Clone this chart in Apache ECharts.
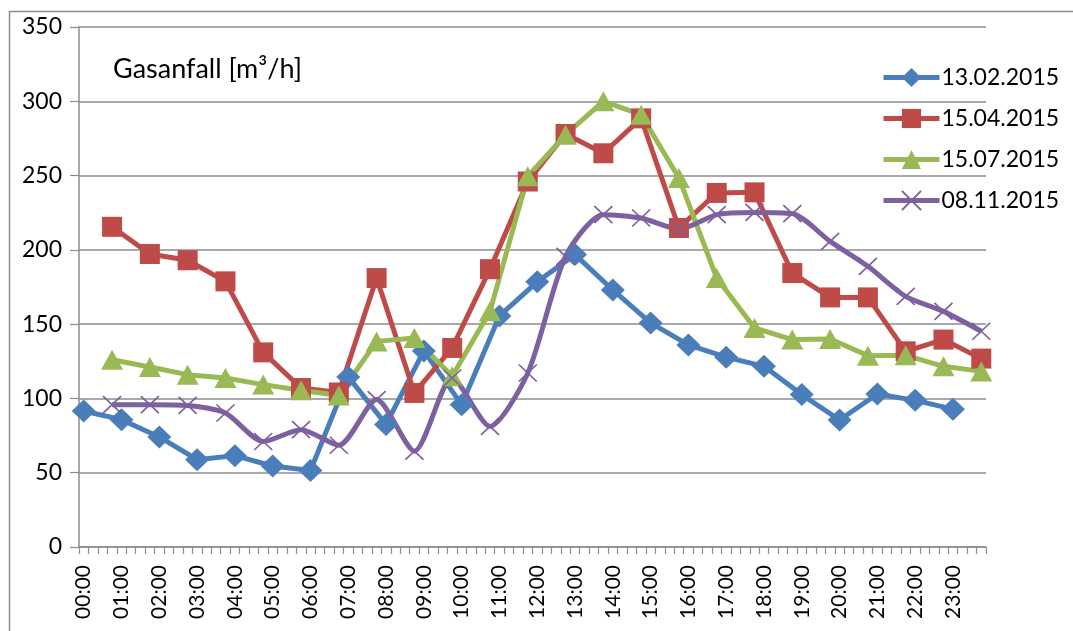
<!DOCTYPE html>
<html>
<head>
<meta charset="utf-8">
<script src="https://cdn.jsdelivr.net/npm/echarts@6/dist/echarts.min.js"></script>
<style>
html,body{margin:0;padding:0;background:#fff;}
#chart{width:1073px;height:631px;}
</style>
</head>
<body>
<div id="chart"></div>
<script>
// Hour tick labels (shown on axis)
const hourLabels = ['00','01','02','03','04','05','06','07','08','09','10','11',
                    '12','13','14','15','16','17','18','19','20','21','22','23'];
const quarterLabels = ['00','15','30','45'];
// Series names
const seriesNames = ['13.02.2015','15.04.2015','15.07.2015','08.11.2015'];
// 13.02.2015 measured at full hours (HH:00)
const feb13 = [91.5, 85.7, 74.1, 58.8, 61.5, 54.5, 51.5, 114.5, 82.5, 132, 95.8, 155.5,
               178.5, 196.8, 173, 150.8, 136, 127.8, 121.6, 102.6, 85.5, 103, 98.7, 92.8];
// others measured at HH:45
const apr15 = [215.5, 197.2, 193, 178.8, 131, 107, 104, 181, 103.7, 134, 187, 246,
               278, 265, 288.5, 214.7, 238.3, 238.7, 184.4, 168, 168, 131.7, 139.6, 126.8];
const jul15 = [126, 121.2, 116, 113.8, 109.3, 105.5, 102, 138.4, 140.7, 114.9, 158.6, 249.5,
               277.5, 300, 291, 248.4, 181, 147.4, 139.6, 140, 128.8, 129, 121.6, 118.2];
const nov08 = [95.8, 95.8, 95.3, 90.2, 71, 79, 68.5, 99.2, 64.5, 113.8, 81.2, 117.1,
               195.6, 223.7, 221.4, 214, 223.7, 225.2, 224.4, 205.7, 188.9, 168.7, 158.6, 145.2];

const categories = [];
hourLabels.forEach(h => quarterLabels.forEach(q => categories.push(h + ':' + q)));

function toData(values, minute) {
  return values.map((v, i) => [hourLabels[i] + ':' + minute, v]);
}

const FONT = 'Lato';
const colors = ['#4A7EBB', '#BE4B48', '#98B954', '#7D60A0'];

const chart = echarts.init(document.getElementById('chart'), null, {renderer: 'canvas'});
chart.setOption({
  animation: false,
  color: colors,
  textStyle: {fontFamily: FONT},
  graphic: [
    {type: 'rect', shape: {x: 9.5, y: 11.5, width: 1200, height: 800},
     style: {fill: 'none', stroke: '#8c8c8c', lineWidth: 1.5}, silent: true},
    {type: 'text', left: 113, top: 56,
     style: {text: 'Gasanfall [m³/h]', font: '27px Lato', fill: '#000'}}
  ],
  legend: {
    orient: 'vertical',
    left: 876, top: 61,
    itemWidth: 56, itemHeight: 24,
    itemGap: 18,
    lineStyle: {width: 5},
    textStyle: {fontFamily: FONT, fontSize: 23, color: '#000', padding: [0,0,0,-3]},
    data: seriesNames
  },
  grid: {left: 79, right: 87, top: 27, bottom: 84},
  xAxis: {
    type: 'category',
    data: categories,
    boundaryGap: true,
    axisLine: {lineStyle: {color: '#8c8c8c', width: 1.5}},
    axisTick: {show: true, interval: 0, length: 7, lineStyle: {color: '#8c8c8c', width: 1.2}},
    axisLabel: {interval: 3, rotate: 90, margin: 18, fontFamily: FONT, fontSize: 21, color: '#000'},
    splitLine: {show: false}
  },
  yAxis: {
    type: 'value',
    min: 0, max: 350, interval: 50,
    axisLine: {show: true, lineStyle: {color: '#8c8c8c', width: 1.5}},
    axisTick: {show: true, length: 9, lineStyle: {color: '#8c8c8c', width: 1.2}},
    axisLabel: {margin: 17, fontFamily: FONT, fontSize: 23, color: '#000'},
    splitLine: {lineStyle: {color: '#8c8c8c', width: 1.5}}
  },
  series: [
    {name: seriesNames[0], type: 'line', data: toData(feb13, '00'), showAllSymbol: true,
     symbol: 'diamond', symbolSize: [24, 23],
     lineStyle: {width: 5, color: colors[0]}, itemStyle: {color: colors[0]}},
    {name: seriesNames[1], type: 'line', data: toData(apr15, '45'), showAllSymbol: true,
     symbol: 'rect', symbolSize: [20, 20],
     lineStyle: {width: 5, color: colors[1]}, itemStyle: {color: colors[1]}},
    {name: seriesNames[2], type: 'line', data: toData(jul15, '45'), showAllSymbol: true,
     symbol: 'triangle', symbolSize: [22, 20],
     lineStyle: {width: 5, color: colors[2]}, itemStyle: {color: colors[2]}},
    {name: seriesNames[3], type: 'line', data: toData(nov08, '45'), smooth: 0.25, showAllSymbol: true,
     symbol: 'path://M0,0 L10,10 M10,0 L0,10', symbolSize: [18, 17],
     lineStyle: {width: 5, color: colors[3]},
     itemStyle: {color: 'rgba(0,0,0,0)', borderColor: colors[3], borderWidth: 1.6}}
  ]
});
</script>
</body>
</html>
